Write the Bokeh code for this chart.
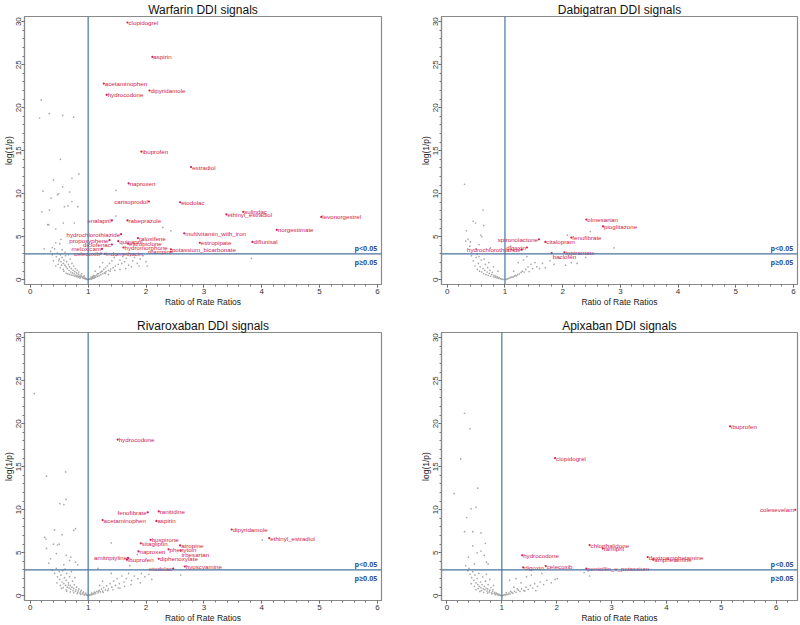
from bokeh.plotting import figure
from bokeh.layouts import gridplot
from bokeh.models import Range1d, SingleIntervalTicker, Span, ColumnDataSource
from bokeh.embed import file_html
from bokeh.resources import INLINE
from bokeh.core.properties import value

# ---------------- data ----------------
titles = ["Warfarin DDI signals", "Dabigatran DDI signals",
          "Rivaroxaban DDI signals", "Apixaban DDI signals"]
x_label = "Ratio of Rate Ratios"
y_label = "log(1/p)"
sig_label = "p<0.05"
nonsig_label = "p\u22650.05"
x_ticks = [0, 1, 2, 3, 4, 5, 6]
y_ticks = [0, 5, 10, 15, 20, 25, 30]
null_rrr = 1
p_threshold_y = 3

# Warfarin
warf_names = ["clopidogrel", "aspirin", "acetaminophen", "hydrocodone", "dipyridamole",
              "ibuprofen", "estradiol", "naproxen", "carisoprodol", "etodolac",
              "sulindac", "ethinyl_estradiol", "levonorgestrel", "enalapril", "rabeprazole",
              "norgestimate", "multivitamin_with_iron", "raloxifene", "hydrochlorothiazide",
              "propoxyphene", "quinapril", "eszopiclone", "diclofenac", "hydromorphone",
              "meloxicam", "celecoxib", "indomethacin", "rifampin", "potassium_bicarbonate",
              "estropipate", "diflunisal"]
warf_x = [1.68, 2.11, 1.27, 1.32, 2.06, 1.92, 2.78, 1.70, 2.05, 2.59,
          3.68, 3.39, 5.03, 1.41, 1.68, 4.26, 2.66, 1.86, 1.57,
          1.37, 1.52, 1.69, 1.41, 1.61, 1.24, 1.22, 1.29, 2.43, 2.43,
          2.93, 3.84]
warf_y = [29.9, 25.9, 22.8, 21.5, 22.0, 14.9, 13.1, 11.2, 9.1, 9.0,
          7.9, 7.6, 7.3, 6.9, 6.9, 5.8, 5.4, 4.85, 5.3,
          4.6, 4.5, 4.2, 4.1, 3.75, 3.6, 3.05, 3.02, 3.25, 3.55,
          4.3, 4.4]
warf_gx = [0.19, 0.16, 0.33, 0.56, 0.75, 0.52, 0.84, 0.40, 0.72, 0.56, 0.22, 0.68, 0.49, 0.36,
           1.48, 0.72, 0.82, 0.65, 0.20, 0.33, 1.48, 0.32, 2.29, 2.43, 3.82, 0.47, 0.59, 0.30,
           0.57, 0.44, 0.76, 0.53, 0.51, 0.38, 0.24,
           0.35, 0.38, 0.42, 0.45, 0.47, 0.50, 0.52, 0.53, 0.55, 0.57, 0.58, 0.60, 0.61, 0.62,
           0.63, 0.64, 0.66, 0.67, 0.68, 0.69, 0.70, 0.71, 0.72, 0.73, 0.74, 0.75, 0.76, 0.77,
           0.78, 0.79, 0.80, 0.81, 0.82, 0.83, 0.84, 0.85, 0.86, 0.87, 0.88, 0.89, 0.90, 0.91,
           0.92, 0.93, 0.94, 0.95, 0.96, 0.97, 0.98, 0.99, 0.44, 0.55, 0.60, 0.66, 0.48, 0.52,
           0.57, 0.40, 0.44,
           1.01, 1.02, 1.03, 1.04, 1.05, 1.06, 1.07, 1.08, 1.09, 1.10, 1.11, 1.12, 1.13, 1.15,
           1.16, 1.18, 1.19, 1.21, 1.22, 1.24, 1.25, 1.27, 1.28, 1.30, 1.31, 1.33, 1.35, 1.37,
           1.39, 1.41, 1.43, 1.45, 1.47, 1.50, 1.52, 1.55, 1.58, 1.60, 1.63, 1.66, 1.70, 1.73,
           1.77, 1.80, 1.85, 1.90, 1.95, 2.00, 2.02, 1.12, 1.20, 1.35, 1.25,
           0.62, 0.68, 0.74, 0.80, 0.86, 0.58, 0.65, 0.71, 0.77, 0.83, 1.05, 1.10, 1.16, 1.23,
           1.30, 1.38, 1.46, 1.55, 1.65, 1.75, 1.88, 0.49, 0.54, 0.93, 1.08]
warf_gy = [20.9, 18.8, 19.3, 19.1, 18.9, 14.0, 12.3, 11.6, 11.8, 10.8, 10.3, 10.2, 10.0, 9.5,
           10.4, 9.1, 8.5, 8.6, 7.9, 8.1, 7.4, 6.4, 6.1, 5.7, 2.5, 9.9, 8.5, 6.4,
           6.6, 5.9, 6.6, 4.7, 4.2, 3.75, 3.6,
           3.3, 2.9, 3.6, 2.7, 3.1, 2.4, 2.9, 2.1, 2.6, 1.9, 2.3, 1.7, 2.8, 1.5,
           2.1, 1.3, 1.8, 1.1, 1.5, 2.4, 0.9, 1.3, 1.9, 0.8, 1.1, 1.6, 0.7, 0.95,
           1.3, 0.55, 0.8, 1.1, 0.45, 0.65, 0.9, 0.38, 0.55, 0.3, 0.45, 0.7, 0.25, 0.35,
           0.18, 0.28, 0.12, 0.2, 0.08, 0.14, 0.05, 0.03, 4.3, 3.5, 3.2, 2.9, 1.8, 1.4,
           1.2, 2.2, 1.6,
           0.03, 0.06, 0.1, 0.14, 0.08, 0.2, 0.12, 0.28, 0.18, 0.36, 0.22, 0.45, 0.3, 0.55,
           0.38, 0.7, 0.48, 0.85, 0.58, 1.0, 0.7, 1.2, 0.8, 1.4, 0.95, 1.6, 1.1, 1.9,
           1.25, 2.2, 1.4, 2.6, 1.6, 2.9, 1.8, 2.3, 1.9, 2.7, 2.1, 2.5, 1.7, 2.8,
           2.2, 2.6, 1.9, 2.4, 2.8, 2.1, 1.6, 1.0, 1.5, 0.6, 2.0,
           0.75, 0.62, 0.5, 0.36, 0.2, 1.0, 0.68, 0.55, 0.42, 0.3, 0.3, 0.5, 0.7, 0.95,
           0.75, 1.0, 1.1, 1.2, 1.3, 1.5, 1.6, 2.2, 1.7, 0.45, 0.4]

# Dabigatran
dabi_names = ["olmesartan", "pioglitazone", "fenofibrate", "spironolactone", "citalopram",
              "digoxin", "hydrochlorothiazide", "topiramate", "baclofen"]
dabi_x = [2.41, 2.70, 2.15, 1.59, 1.70, 1.38, 1.29, 2.03, 1.81]
dabi_y = [7.0, 6.2, 4.9, 4.7, 4.4, 3.75, 3.5, 3.2, 3.1]
dabi_gx = [0.30, 0.62, 0.45, 0.49, 0.63, 0.33, 0.58, 0.60, 0.36, 0.40, 0.39, 2.08, 2.48, 2.89,
           2.40, 0.32, 0.55, 0.50, 0.75, 1.10,
           0.42, 0.45, 0.48, 0.50, 0.52, 0.54, 0.56, 0.57, 0.59, 0.60, 0.62, 0.63, 0.65, 0.66,
           0.67, 0.69, 0.70, 0.71, 0.73, 0.74, 0.75, 0.77, 0.78, 0.80, 0.81, 0.83, 0.84, 0.86,
           0.87, 0.89, 0.90, 0.92, 0.94, 0.96, 0.98, 0.55, 0.64, 0.72, 0.80, 0.88, 0.52,
           1.02, 1.04, 1.06, 1.08, 1.10, 1.12, 1.14, 1.16, 1.18, 1.20, 1.22, 1.25, 1.28, 1.30,
           1.33, 1.36, 1.40, 1.42, 1.45, 1.48, 1.52, 1.55, 1.60, 1.65, 1.70, 1.78, 1.85, 1.95,
           2.05, 2.15, 2.25, 1.15, 1.23, 1.32, 1.38]
dabi_gy = [11.1, 8.1, 6.8, 6.6, 6.3, 5.7, 5.2, 5.0, 4.7, 4.4, 3.9, 5.2, 5.6, 3.7,
           2.6, 4.5, 4.1, 3.6, 3.7, 3.9,
           2.8, 2.2, 1.6, 2.6, 1.2, 1.9, 1.0, 1.5, 2.3, 0.9, 1.3, 0.7, 1.1, 1.8,
           0.6, 0.9, 1.4, 0.5, 0.75, 1.1, 0.4, 0.6, 0.85, 0.35, 0.5, 0.28, 0.42, 0.22,
           0.33, 0.17, 0.26, 0.12, 0.08, 0.05, 0.03, 2.7, 2.4, 2.0, 1.5, 1.0, 3.0,
           0.04, 0.1, 0.15, 0.2, 0.27, 0.33, 0.3, 0.42, 0.5, 0.45, 0.6, 0.7, 0.85, 1.0,
           0.9, 1.2, 1.5, 0.95, 1.8, 1.3, 2.0, 1.5, 1.3, 1.9, 1.4, 2.2, 1.8, 2.5,
           1.7, 2.0, 1.9, 1.0, 2.0, 2.3, 2.7]

# Rivaroxaban
riva_names = ["hydrocodone", "fenofibrate", "ranitidine", "acetaminophen", "aspirin",
              "dipyridamole", "ethinyl_estradiol", "buspirone", "sitagliptin", "atropine",
              "phenytoin", "naproxen", "irbesartan", "amitriptyline", "ibuprofen",
              "diphenoxylate", "hyoscyamine", "etodolac"]
riva_x = [1.51, 2.03, 2.22, 1.25, 2.18, 3.48, 4.13, 2.08, 1.91, 2.59,
          2.39, 1.87, 2.60, 1.69, 1.67, 2.22, 2.67, 2.47]
riva_y = [18.15, 9.7, 9.8, 8.8, 8.7, 7.7, 6.7, 6.5, 6.1, 5.85,
          5.4, 5.15, 5.25, 4.4, 4.2, 4.3, 3.4, 3.15]
riva_gx = [0.07, 0.28, 0.61, 0.51, 0.58, 0.62, 0.42, 0.78, 0.75, 0.55, 0.25, 0.40, 0.47, 0.28,
           1.40, 4.01, 1.17, 2.60, 0.35, 0.62, 0.70, 0.68, 0.78, 0.82, 0.58, 0.32, 0.45, 1.85,
           1.72, 0.27, 0.50,
           0.38, 0.42, 0.45, 0.47, 0.50, 0.51, 0.53, 0.55, 0.56, 0.58, 0.59, 0.61, 0.62, 0.63,
           0.64, 0.66, 0.67, 0.68, 0.69, 0.70, 0.72, 0.73, 0.74, 0.75, 0.76, 0.78, 0.79, 0.80,
           0.82, 0.83, 0.84, 0.86, 0.87, 0.88, 0.90, 0.91, 0.92, 0.94, 0.95, 0.96, 0.97, 0.98,
           0.99, 0.46, 0.52, 0.57, 0.62, 0.71, 0.77, 0.60,
           1.01, 1.02, 1.03, 1.05, 1.06, 1.07, 1.09, 1.10, 1.12, 1.13, 1.15, 1.17, 1.19, 1.21,
           1.23, 1.25, 1.27, 1.30, 1.32, 1.35, 1.38, 1.41, 1.44, 1.47, 1.50, 1.54, 1.58, 1.62,
           1.66, 1.70, 1.75, 1.80, 1.86, 1.92, 1.98, 2.05, 2.10, 1.40, 1.25, 1.55, 1.20,
           0.63, 0.69, 0.75, 0.81, 0.87, 0.93, 1.06, 1.11, 1.18, 1.26, 1.34, 1.43, 1.52, 1.63,
           1.74, 1.90, 0.54, 0.66]
riva_gy = [23.5, 13.9, 14.4, 10.7, 10.6, 11.2, 7.65, 7.8, 7.6, 7.1, 6.8, 6.0, 5.9, 5.5,
           6.15, 6.5, 3.2, 2.4, 4.3, 4.7, 4.5, 4.1, 3.9, 3.6, 3.6, 3.8, 4.9, 4.8,
           3.5, 6.6, 6.0,
           3.0, 2.6, 3.2, 2.2, 2.8, 1.9, 2.4, 1.6, 2.9, 1.4, 2.1, 1.2, 1.8, 2.6,
           1.0, 1.5, 0.9, 2.2, 1.2, 0.75, 1.0, 1.7, 0.6, 0.85, 1.3, 0.5, 0.7, 1.0,
           0.4, 0.58, 0.8, 0.3, 0.45, 0.62, 0.22, 0.33, 0.45, 0.14, 0.22, 0.3, 0.08, 0.12,
           0.04, 1.5, 1.2, 0.95, 0.7, 2.8, 2.1, 3.1,
           0.03, 0.07, 0.12, 0.1, 0.2, 0.15, 0.28, 0.2, 0.38, 0.26, 0.5, 0.35, 0.62, 0.45,
           0.78, 0.55, 0.95, 0.68, 1.15, 0.8, 1.4, 1.0, 1.7, 1.2, 2.0, 1.4, 2.3, 1.6,
           2.0, 2.6, 1.8, 2.3, 2.0, 2.6, 2.2, 2.5, 1.9, 2.6, 1.7, 0.9, 1.2,
           0.55, 0.45, 0.35, 0.25, 0.16, 0.08, 0.3, 0.42, 0.55, 0.4, 0.6, 0.7, 0.9, 1.1,
           1.3, 1.5, 0.85, 1.25]

# Apixaban
apix_names = ["ibuprofen", "clopidogrel", "colesevelam", "chlorthalidone", "ramipril",
              "hydrocodone", "dextroamphetamine", "amphetamine", "digoxin", "celecoxib",
              "penicillin_v_potassium"]
apix_x = [5.16, 1.97, 6.35, 2.60, 2.84, 1.37, 3.66, 3.76, 1.39, 1.80, 2.54]
apix_y = [19.7, 16.0, 10.0, 5.9, 5.5, 4.7, 4.5, 4.2, 3.3, 3.45, 3.15]
apix_gx = [0.32, 0.42, 0.25, 0.56, 0.13, 0.53, 0.44, 0.36, 0.32, 0.47, 0.62, 0.70, 0.47, 0.39,
           0.55, 0.62, 0.68, 0.72, 0.75, 0.34, 0.50, 2.50, 2.60,
           0.38, 0.42, 0.45, 0.47, 0.49, 0.51, 0.53, 0.55, 0.56, 0.58, 0.59, 0.61, 0.62, 0.64,
           0.65, 0.66, 0.68, 0.69, 0.70, 0.71, 0.73, 0.74, 0.75, 0.77, 0.78, 0.80, 0.81, 0.83,
           0.84, 0.86, 0.87, 0.89, 0.90, 0.92, 0.93, 0.95, 0.96, 0.98, 0.99, 0.44, 0.50, 0.57,
           0.63, 0.72, 0.78, 0.85, 0.40,
           1.01, 1.03, 1.05, 1.07, 1.09, 1.11, 1.13, 1.15, 1.18, 1.20, 1.23, 1.26, 1.30, 1.33,
           1.36, 1.40, 1.44, 1.48, 1.52, 1.56, 1.60, 1.65, 1.70, 1.76, 1.82, 1.90, 1.97, 2.01,
           1.14, 1.26, 1.54, 1.73, 1.35, 1.22, 1.45, 1.62,
           0.60, 0.67, 0.74, 0.82, 0.88, 0.94, 0.53, 1.08, 1.16, 1.28, 1.42]
apix_gy = [21.2, 19.4, 15.9, 12.5, 11.9, 10.3, 10.1, 9.1, 7.45, 7.45, 7.3, 6.1, 5.8, 4.5,
           5.0, 5.2, 4.7, 3.9, 3.7, 3.5, 3.7, 2.7, 2.3,
           2.9, 2.5, 2.1, 2.8, 1.8, 2.4, 1.5, 2.0, 1.3, 2.6, 1.1, 1.6, 0.95, 1.3,
           2.2, 0.8, 1.1, 0.7, 1.7, 0.9, 0.55, 0.8, 1.3, 0.45, 0.65, 0.95, 0.35, 0.5,
           0.7, 0.27, 0.4, 0.2, 0.3, 0.14, 0.22, 0.09, 0.14, 0.05, 0.02, 1.4, 1.1, 0.85,
           0.6, 2.5, 1.9, 1.2, 3.2,
           0.03, 0.08, 0.13, 0.1, 0.2, 0.15, 0.3, 0.22, 0.4, 0.3, 0.52, 0.4, 0.65, 0.5,
           0.8, 0.6, 1.0, 0.75, 1.2, 0.9, 1.4, 1.1, 1.6, 1.3, 1.8, 1.5, 1.9, 2.0,
           1.8, 2.0, 2.4, 2.6, 1.5, 1.0, 2.2, 0.6,
           0.5, 0.4, 0.3, 0.22, 0.12, 0.06, 0.7, 0.35, 0.5, 0.8, 0.55]

# label placement (style, kept apart from the values)
warf_pos = ["r", "r", "r", "r", "r", "r", "r", "r", "l", "r",
            "tr", "r", "r", "l", "r", "r", "r", "r", "l",
            "l", "tr", "r", "l", "r", "l", "l", "r", "l", "r",
            "r", "r"]
dabi_pos = ["r", "r", "r", "l", "r", "l", "l", "r", "br"]
riva_pos = ["r", "l", "r", "r", "r", "r", "r", "tr", "r", "tr",
            "tr", "r", "br", "l", "r", "r", "tr", "l"]
apix_pos = ["r", "r", "l", "tr", "r", "r", "tr", "r", "r", "r", "tr"]

# ---------------- styling ----------------
FONT = "Liberation Sans"
RED = "#d0214c"
GREY = "#a8a8a8"
BLUE_LINE = "#4a74a0"
BLUE_TXT = "#2d5596"
FRAME = "#8a8a8a"


def make_panel(title, gx, gy, names, lx, ly, pos, xmax, w, h, bl, br, bt, bb):
    p = figure(width=w, height=h, x_range=Range1d(-0.1, xmax), y_range=Range1d(-0.55, 30.6),
               output_backend="svg", toolbar_location=None,
               min_border_left=bl, min_border_right=br, min_border_top=bt, min_border_bottom=bb)
    p.title.text = title
    p.title.align = "center"
    p.title.text_font = FONT
    p.title.text_font_size = "12px"
    p.title.text_font_style = "normal"
    p.title.text_color = "#111111"
    p.title.text_line_height = 0.9
    p.title.standoff = 0
    p.title.offset = 0
    p.grid.visible = False
    p.outline_line_color = FRAME
    p.outline_line_width = 1.2
    p.background_fill_color = "white"
    p.border_fill_color = "white"

    xa = p.xaxis[0]
    xa.ticker = SingleIntervalTicker(interval=1, num_minor_ticks=5)
    ya = p.yaxis[0]
    ya.ticker = SingleIntervalTicker(interval=5, num_minor_ticks=5)
    ya.major_label_orientation = "vertical"
    xa.axis_label = x_label
    ya.axis_label = y_label
    for ax in (xa, ya):
        ax.axis_line_color = FRAME
        ax.axis_line_width = 1.2
        ax.major_tick_line_color = "#555555"
        ax.minor_tick_line_color = "#777777"
        ax.major_tick_out = 3
        ax.major_tick_in = 0
        ax.minor_tick_out = 2
        ax.minor_tick_in = 0
        ax.major_label_text_font = FONT
        ax.major_label_text_font_size = "8px"
        ax.major_label_text_color = "#333333"
        ax.major_label_standoff = 1
        ax.axis_label_text_font = FONT
        ax.axis_label_text_font_size = "8.5px"
        ax.axis_label_text_font_style = "normal"
        ax.axis_label_text_color = "#222222"
        ax.axis_label_standoff = 0
    ya.major_label_standoff = 0
    ya.major_label_text_line_height = 0.9
    ya.axis_label_text_line_height = 0.9

    p.add_layout(Span(location=null_rrr, dimension="height", line_color=BLUE_LINE, line_width=1.2))
    p.add_layout(Span(location=p_threshold_y, dimension="width", line_color=BLUE_LINE, line_width=1.2))

    p.scatter(gx, gy, size=1.7, color=GREY, line_width=0)
    p.scatter(lx, ly, size=2.2, color=RED, line_width=0)

    specs = {
        "r": dict(text_align="left", text_baseline="middle", x_offset=1),
        "tr": dict(text_align="left", text_baseline="alphabetic", x_offset=1),
        "br": dict(text_align="left", text_baseline="top", x_offset=1),
        "l": dict(text_align="right", text_baseline="middle", x_offset=-1),
    }
    for key, kw in specs.items():
        idx = [i for i, s in enumerate(pos) if s == key]
        if not idx:
            continue
        src = ColumnDataSource(dict(x=[lx[i] for i in idx], y=[ly[i] for i in idx],
                                    t=[names[i] for i in idx]))
        p.text("x", "y", text="t", source=src, text_font=value(FONT),
               text_font_size="6.2px", text_color=RED, **kw)

    p.text([xmax - 0.07], [3.75], text=[sig_label], text_font=value("Open Sans"),
           text_font_size="7.2px", text_font_style="bold", text_color=BLUE_TXT,
           text_align="right", text_baseline="middle")
    p.text([xmax - 0.07], [2.05], text=[nonsig_label], text_font=value("Open Sans"),
           text_font_size="7.2px", text_font_style="bold", text_color=BLUE_TXT,
           text_align="right", text_baseline="middle")
    return p


p1 = make_panel(titles[0], warf_gx, warf_gy, warf_names, warf_x, warf_y, warf_pos,
                6.07, 400, 310, 23, 19, 13, 26)
p2 = make_panel(titles[1], dabi_gx, dabi_gy, dabi_names, dabi_x, dabi_y, dabi_pos,
                6.07, 400, 310, 41, 3, 13, 26)
p3 = make_panel(titles[2], riva_gx, riva_gy, riva_names, riva_x, riva_y, riva_pos,
                6.07, 400, 315, 23, 19, 22, 22)
p4 = make_panel(titles[3], apix_gx, apix_gy, apix_names, apix_x, apix_y, apix_pos,
                6.39, 400, 315, 41, 3, 22, 22)

grid = gridplot([[p1, p2], [p3, p4]], toolbar_location=None)

open("out.html", "w").write(file_html(grid, INLINE))
